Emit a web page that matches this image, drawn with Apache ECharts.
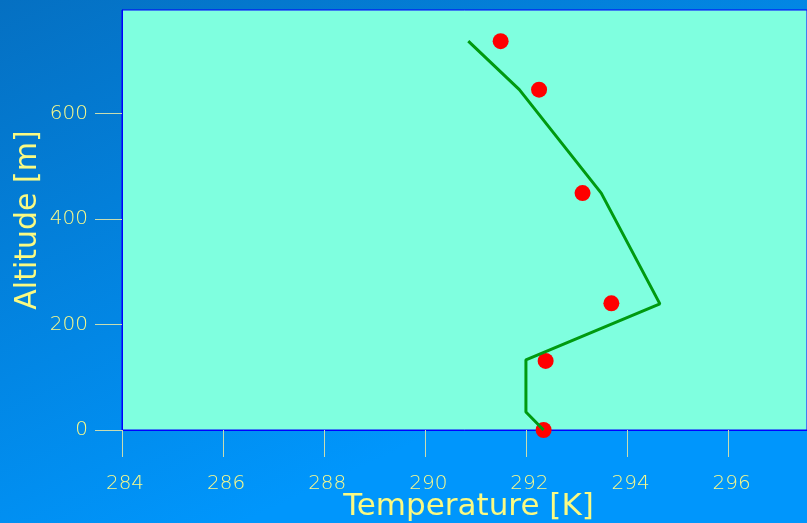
<!DOCTYPE html>
<html lang="en">
<head>
    <meta charset="utf-8">
    <script src="https://cdn.jsdelivr.net/npm/echarts@6/dist/echarts.min.js"></script>
    <style>
        html, body { margin: 0; padding: 0; }
        #chart { width: 807px; height: 523px; }
    </style>
</head>
<body>
<div id="chart"></div>
<script>
    // measured points [temperature K, altitude m]
    var measured = [[292.34, 0], [292.38, 131], [293.68, 240], [293.11, 449], [292.25, 645], [291.49, 737]];
    // model profile
    var model = [[292.34, 0], [291.99, 34], [291.99, 133], [294.64, 239], [293.48, 449], [291.86, 645], [290.85, 737]];
    var xTicks = [284, 286, 288, 290, 292, 294, 296];
    var yTicks = [0, 200, 400, 600];

    var labelColor = '#fafa8a';
    var tickColor = '#c8dcb0';
    var titleColor = '#fafa82';

    var chart = echarts.init(document.getElementById('chart'));
    var option = {
        animation: false,
        backgroundColor: {
            type: 'linear', x: 0, y: 0, x2: 0.3, y2: 1,
            colorStops: [
                {offset: 0, color: '#0570c2'},
                {offset: 1, color: '#0096fc'}
            ]
        },
        grid: {
            left: 122, top: 10, right: 0, bottom: 93,
            outerBoundsMode: 'none',
            containLabel: false,
            show: true,
            backgroundColor: '#7fffdf',
            borderColor: '#0000ff',
            borderWidth: 1
        },
        xAxis: {
            type: 'value',
            min: 284, max: 297.55, interval: 2,
            name: 'Temperature [K]',
            nameLocation: 'middle',
            nameGap: 61,
            nameMoveOverlap: false,
            nameTextStyle: {color: titleColor, fontSize: 31, fontFamily: 'DejaVu Sans', padding: [0, 0, 0, 8]},
            splitLine: {show: false},
            axisLine: {show: true, lineStyle: {color: '#0000ff', width: 1}},
            axisTick: {show: true, length: 27, customValues: xTicks, lineStyle: {color: tickColor, width: 1}},
            axisLabel: {
                customValues: xTicks,
                margin: 44, color: labelColor, fontSize: 20,
                fontFamily: 'DejaVu Sans', fontWeight: 200,
                padding: [0, 0, 0, 6]
            }
        },
        yAxis: {
            type: 'value',
            min: 0, max: 796, interval: 200,
            name: 'Altitude [m]',
            nameLocation: 'middle',
            nameGap: 79,
            nameMoveOverlap: false,
            nameTextStyle: {color: titleColor, fontSize: 30, fontFamily: 'DejaVu Sans'},
            splitLine: {show: false},
            axisLine: {show: true, lineStyle: {color: '#0000ff', width: 1}},
            axisTick: {show: true, length: 27, customValues: yTicks, lineStyle: {color: tickColor, width: 1}},
            axisLabel: {
                customValues: yTicks,
                margin: 34, color: labelColor, fontSize: 20,
                fontFamily: 'DejaVu Sans', fontWeight: 200
            }
        },
        series: [
            {
                type: 'scatter',
                data: measured,
                symbol: 'circle',
                symbolSize: 16,
                itemStyle: {color: '#ff0000', opacity: 1},
                z: 2
            },
            {
                type: 'line',
                data: model,
                showSymbol: false,
                lineStyle: {color: '#009a10', width: 3},
                z: 3
            }
        ]
    };
    chart.setOption(option);
</script>
</body>
</html>
